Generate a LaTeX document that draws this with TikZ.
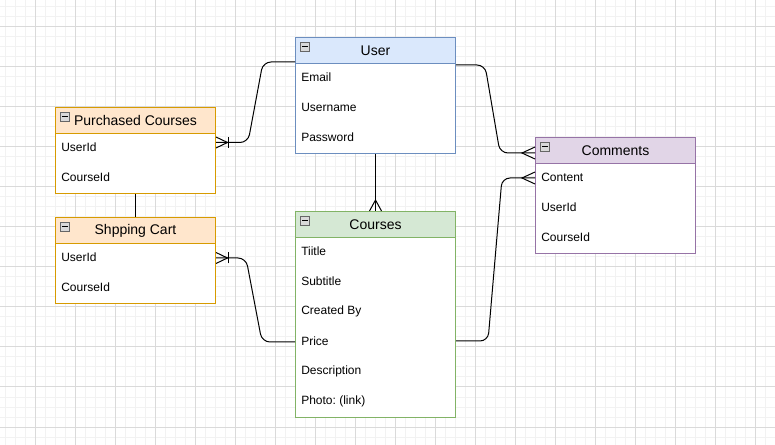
\documentclass[tikz,border=0pt]{standalone}
\usepackage{fontspec}
\setmainfont{Liberation Sans}
\usetikzlibrary{calc}
\frenchspacing
\definecolor{gridminor}{HTML}{F2F2F2}
\definecolor{gridmajor}{HTML}{DADADA}
\definecolor{bluef}{HTML}{DAE8FC}\definecolor{blued}{HTML}{6C8EBF}
\definecolor{orangef}{HTML}{FFE6CC}\definecolor{oranged}{HTML}{D79B00}
\definecolor{greenf}{HTML}{D5E8D4}\definecolor{greend}{HTML}{82B366}
\definecolor{purplef}{HTML}{E1D5E7}\definecolor{purpled}{HTML}{9673A6}
\tikzset{
  tbl/.style={draw, fill=white, line width=0.75pt, rectangle, inner sep=0pt, anchor=north west, minimum width=120pt},
  hdr/.style={draw, line width=0.75pt, rectangle, inner sep=0pt, anchor=north west, minimum width=120pt, minimum height=19.5pt, font=\fontsize{10.5pt}{12pt}\selectfont},
  rowtxt/.style={anchor=west, inner sep=0pt, font=\fontsize{9pt}{11pt}\selectfont},
  conn/.style={draw=black, line width=0.75pt, rounded corners=6pt},
  crowl/.style={draw=black, line width=0.75pt},
  iconbox/.style={draw=gray!80!black, fill=gray!30, line width=0.5pt, rectangle, inner sep=0pt, minimum width=6.75pt, minimum height=6.75pt, anchor=north west},
}
\newcommand\collapseicon[1]{%
  \node[iconbox] (#1-icon) at ($(#1.north west)+(5,5)$) {};
  \draw[black, line width=0.9pt] ($(#1-icon.west)+(2,0)$) -- ($(#1-icon.east)+(-2,0)$);}
% crow's foot: #1 point, #2 rotation, #3 prong length, #4 half spread
\newcommand\crowfoot[4]{%
  \begin{scope}[shift={#1}, rotate=#2]
    \draw[crowl] (0,#4) -- (#3,0) -- (0,-#4);
  \end{scope}}
\newcommand\crowbar[3]{%
  \begin{scope}[shift={#1}, rotate=#2]
    \draw[crowl] (#3,5.5) -- (#3,-5.5);
  \end{scope}}
\begin{document}
\begin{tikzpicture}[x=0.75pt, y=-0.75pt]
\useasboundingbox (0,0) rectangle (775,445);
\fill[white] (0,0) rectangle (775,445);
% grid
\foreach \gx in {5,15,...,775} \draw[gridminor, line width=0.75pt] (\gx,0) -- (\gx,445);
\foreach \gy in {7,17,...,445} \draw[gridminor, line width=0.75pt] (0,\gy) -- (775,\gy);
\foreach \gx in {35,75,...,775} \draw[gridmajor, line width=0.75pt] (\gx,0) -- (\gx,445);
\foreach \gy in {27,67,...,445} \draw[gridmajor, line width=0.75pt] (0,\gy) -- (775,\gy);

% User
\node[tbl, draw=blued, minimum height=87pt] (user) at (295,37) {};
\node[hdr, draw=blued, fill=bluef] (userh) at (user.north west) {User};
\collapseicon{userh}
\node[rowtxt] (user1) at ($(user.north west)+(6,40)$) {Email};
\node[rowtxt] (user2) at ($(user.north west)+(6,70)$) {Username};
\node[rowtxt] (user3) at ($(user.north west)+(6,100)$) {Password};

% Purchased Courses
\node[tbl, draw=oranged, minimum height=64.5pt] (pc) at (55,107) {};
\node[hdr, draw=oranged, fill=orangef] (pch) at (pc.north west) {Purchased Courses};
\collapseicon{pch}
\node[rowtxt] (pc1) at ($(pc.north west)+(6,40)$) {UserId};
\node[rowtxt] (pc2) at ($(pc.north west)+(6,70)$) {CourseId};

% Shopping Cart
\node[tbl, draw=oranged, minimum height=64.5pt] (sc) at (55,217) {};
\node[hdr, draw=oranged, fill=orangef] (sch) at (sc.north west) {Shpping Cart};
\collapseicon{sch}
\node[rowtxt] (sc1) at ($(sc.north west)+(6,40)$) {UserId};
\node[rowtxt] (sc2) at ($(sc.north west)+(6,70)$) {CourseId};

% Courses
\node[tbl, draw=greend, minimum height=154.5pt] (courses) at (295,211) {};
\node[hdr, draw=greend, fill=greenf] (coursesh) at (courses.north west) {Courses};
\collapseicon{coursesh}
\node[rowtxt] (co1) at ($(courses.north west)+(6,40)$) {Tiitle};
\node[rowtxt] (co2) at ($(courses.north west)+(6,70)$) {Subtitle};
\node[rowtxt] (co3) at ($(courses.north west)+(6,100)$) {Created By};
\node[rowtxt] (co4) at ($(courses.north west)+(6,130)$) {Price};
\node[rowtxt] (co5) at ($(courses.north west)+(6,160)$) {Description};
\node[rowtxt] (co6) at ($(courses.north west)+(6,190)$) {Photo: (link)};

% Comments
\node[tbl, draw=purpled, minimum height=87pt] (cm) at (535,137) {};
\node[hdr, draw=purpled, fill=purplef] (cmh) at (cm.north west) {Comments};
\collapseicon{cmh}
\node[rowtxt] (cm1) at ($(cm.north west)+(6,40)$) {Content};
\node[rowtxt] (cm2) at ($(cm.north west)+(6,70)$) {UserId};
\node[rowtxt] (cm3) at ($(cm.north west)+(6,100)$) {CourseId};

% connectors
% Purchased Courses -- User
\draw[conn] ($(pc.north east)+(0,35.5)$) -- ($(pc.north east)+(32,35.5)$)
  -- ($(user.north west)+(-32,25)$) -- ($(user.north west)+(0,25)$);
\crowfoot{($(pc.north east)+(0,35.5)$)}{0}{11.5}{5.5}
\crowbar{($(pc.north east)+(0,35.5)$)}{0}{12}

% Purchased Courses -- Shopping Cart
\draw[crowl] (pc.south) -- (sc.north);

% User -- Courses
\draw[crowl] (user.south) -- (courses.north);
\crowfoot{(courses.north)}{90}{11}{6}

% User -- Comments
\draw[conn] ($(user.north east)+(0,28)$) -- ($(user.north east)+(29,28)$)
  -- ($(cm.north west)+(-35,16)$) -- ($(cm.north west)+(0,16)$);
\crowfoot{($(cm.north west)+(0,16)$)}{180}{13}{6}

% Courses -- Comments
\draw[conn] ($(courses.north east)+(0,130)$) -- ($(courses.north east)+(32,130)$)
  -- ($(cm.north west)+(-33,41)$) -- ($(cm.north west)+(0,41)$);
\crowfoot{($(cm.north west)+(0,41)$)}{180}{13}{6}

% Shopping Cart -- Courses
\draw[conn] ($(sc.north east)+(0,41)$) -- ($(sc.north east)+(30,41)$)
  -- ($(courses.north west)+(-33,131)$) -- ($(courses.north west)+(0,131)$);
\crowfoot{($(sc.north east)+(0,41)$)}{0}{11.5}{5.5}
\crowbar{($(sc.north east)+(0,41)$)}{0}{12}
\end{tikzpicture}
\end{document}
